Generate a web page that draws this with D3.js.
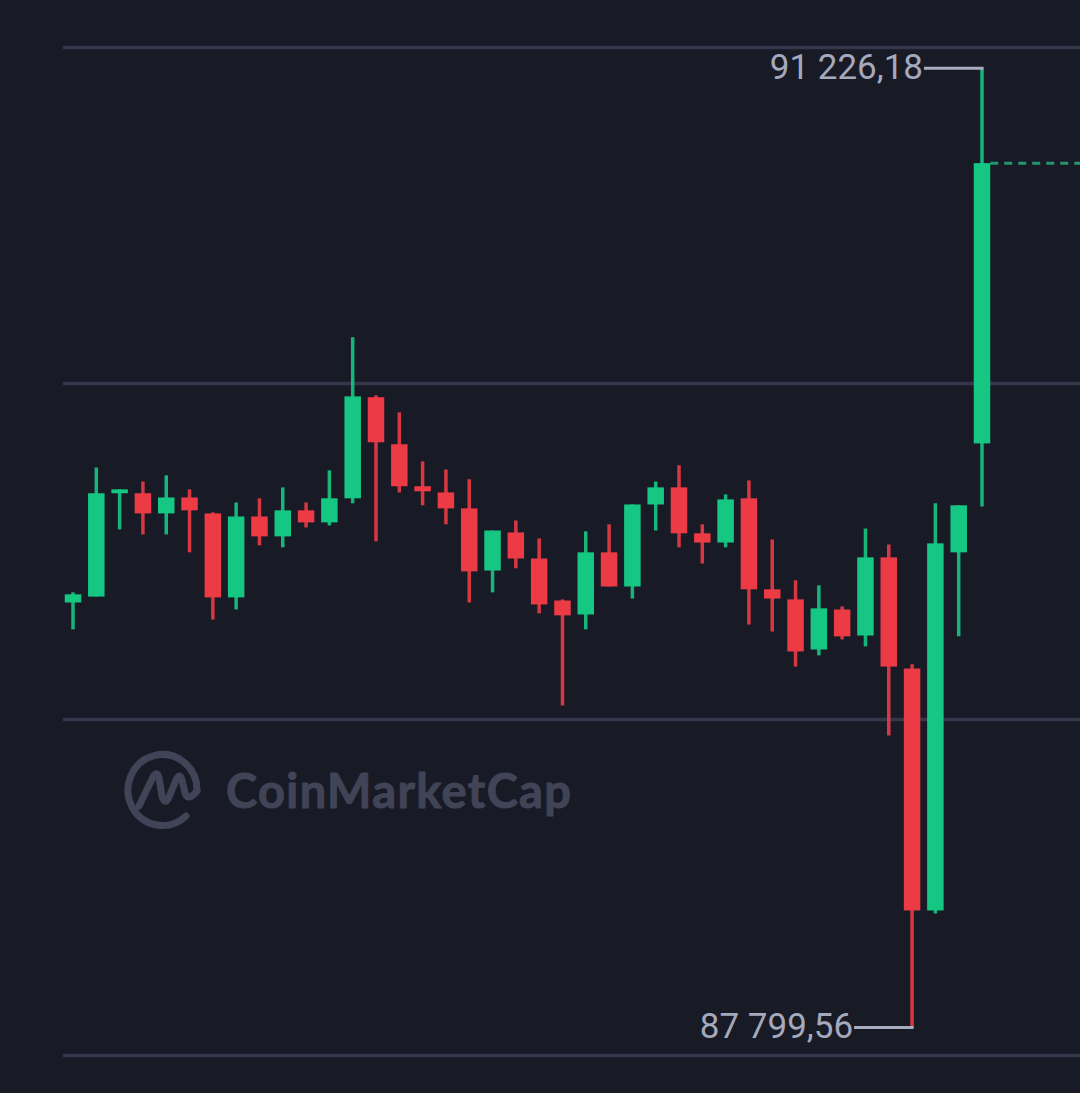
<!DOCTYPE html>
<html>
<head>
<meta charset="utf-8">
<script src="https://d3js.org/d3.v7.min.js"></script>
<style>
  html, body { margin: 0; padding: 0; background: #181a25; overflow: hidden; }
  svg { display: block; }
</style>
</head>
<body>
<svg id="chart"></svg>
<script>
// values, one entry per candle
const opens = [89318, 89339, 89708, 89708, 89636, 89693, 89636, 89336, 89625, 89554,
  89647, 89604, 89690, 90051, 89883, 89733, 89711, 89654, 89432, 89568,
  89475, 89325, 89275, 89497, 89375, 89668, 89729, 89565, 89532, 89690,
  89365, 89329, 89150, 89293, 89200, 89479, 89082, 88218, 89497, 89886];
const highs = [89354, 89800, 89722, 89750, 89772, 89722, 89640, 89675, 89690, 89729,
  89675, 89790, 90265, 90058, 89997, 89822, 89793, 89758, 89575, 89611,
  89547, 89329, 89572, 89597, 89668, 89750, 89808, 89597, 89704, 89754,
  89543, 89397, 89379, 89304, 89582, 89525, 89097, 89672, 89665, 91226.18];
const lows = [89222, 89339, 89579, 89561, 89561, 89497, 89257, 89293, 89522, 89515,
  89586, 89593, 89672, 89536, 89711, 89665, 89597, 89318, 89354, 89440,
  89279, 88950, 89222, 89375, 89332, 89575, 89515, 89457, 89515, 89239,
  89214, 89089, 89129, 89186, 89161, 88843, 87799.56, 88207, 89197, 89661];
const closes = [89347, 89708, 89722, 89636, 89693, 89647, 89336, 89625, 89554, 89647,
  89604, 89690, 90054, 89890, 89733, 89715, 89654, 89429, 89575, 89475,
  89311, 89272, 89497, 89375, 89668, 89729, 89565, 89532, 89686, 89365,
  89332, 89143, 89297, 89197, 89479, 89089, 88218, 89529, 89665, 90887];

const gridValues = [91300, 90100, 88900, 87700];
const highLabel = "91 226,18";
const lowLabel = "87 799,56";
const brandName = "CoinMarketCap";

const width = 1080;
const height = 1093;
const green = "#16c784";
const red = "#ec3b45";
const grey = "#a4a9bc";
const bodyWidth = 16.5;

const svg = d3.select("#chart").attr("width", width).attr("height", height);

svg.append("rect")
  .attr("width", width)
  .attr("height", height)
  .attr("fill", "#181a25");

const x = d3.scalePoint().domain(d3.range(opens.length)).range([73, 982]);
const y = d3.scaleLinear().domain([91300, 87700]).range([47.5, 1055.5]);

const candleColor = (i) => (closes[i] >= opens[i] ? green : red);

// grid
svg.append("g")
  .selectAll("line")
  .data(gridValues)
  .join("line")
  .attr("x1", 63)
  .attr("x2", width)
  .attr("y1", (d) => y(d))
  .attr("y2", (d) => y(d))
  .attr("stroke", "#35364c")
  .attr("stroke-width", 3.5);

// watermark
const mark = svg.append("g").attr("fill", "none").attr("stroke", "#414456").attr("stroke-linecap", "round");
mark.append("path")
  .attr("stroke-width", 7)
  .attr("d", "M186 816 A34.5 35.5 0 1 1 197 790");
mark.append("path")
  .attr("stroke-width", 7)
  .attr("stroke-linejoin", "round")
  .attr("d", "M139 806 L153 777 Q157 770 159 778 L162 796 Q165 806 169 797 L176 780 Q180 772 182 780 L185 793 Q188 802 197 791");
svg.append("text")
  .attr("x", 226)
  .attr("y", 808)
  .attr("font-family", "Lato")
  .attr("font-weight", 700)
  .attr("font-size", 47)
  .attr("textLength", 345)
  .attr("fill", "#414456")
  .attr("stroke", "#414456")
  .attr("stroke-width", 1)
  .attr("stroke-linejoin", "round")
  .text(brandName);

// last close dashed line
const last = opens.length - 1;
svg.append("line")
  .attr("x1", x(last) + bodyWidth / 2)
  .attr("x2", width)
  .attr("y1", y(closes[last]))
  .attr("y2", y(closes[last]))
  .attr("stroke", "#24946a")
  .attr("stroke-width", 3)
  .attr("stroke-dasharray", "8 6");

// candles
const candles = svg.append("g")
  .selectAll("g")
  .data(d3.range(opens.length))
  .join("g");

candles.append("line")
  .attr("x1", (i) => x(i))
  .attr("x2", (i) => x(i))
  .attr("y1", (i) => y(highs[i]))
  .attr("y2", (i) => y(lows[i]))
  .attr("stroke", candleColor)
  .attr("stroke-opacity", 0.9)
  .attr("stroke-width", 3.5);

candles.append("rect")
  .attr("x", (i) => x(i) - bodyWidth / 2)
  .attr("width", bodyWidth)
  .attr("y", (i) => y(Math.max(opens[i], closes[i])))
  .attr("height", (i) => Math.max(2, Math.abs(y(opens[i]) - y(closes[i]))))
  .attr("fill", candleColor);

// high and low callouts
const highIndex = d3.maxIndex(highs);
const lowIndex = d3.minIndex(lows);
const callouts = [
  { text: highLabel, i: highIndex, value: highs[highIndex] },
  { text: lowLabel, i: lowIndex, value: lows[lowIndex] },
];

callouts.forEach((c) => {
  const cy = y(c.value);
  svg.append("line")
    .attr("x1", x(c.i) - 58)
    .attr("x2", x(c.i) + 1.5)
    .attr("y1", cy)
    .attr("y2", cy)
    .attr("stroke", "#a9adc0")
    .attr("stroke-width", 3);
  svg.append("text")
    .attr("x", x(c.i) - 59)
    .attr("y", cy + 10.5)
    .attr("text-anchor", "end")
    .attr("font-family", "Roboto")
    .attr("font-size", 35)
    .attr("fill", grey)
    .text(c.text);
});
</script>
</body>
</html>
